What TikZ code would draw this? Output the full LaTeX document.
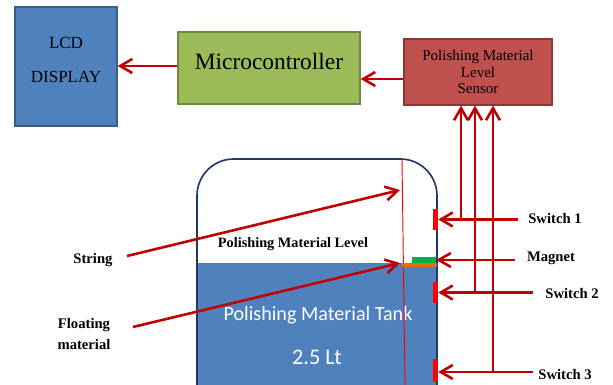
\documentclass[tikz,border=0pt]{standalone}
\usepackage{fontspec}
\setmainfont{Liberation Serif}
\newfontfamily\calfont{Carlito}
\usetikzlibrary{arrows.meta}

\definecolor{lcdblue}{HTML}{4F81BD}
\definecolor{lcdedge}{HTML}{385D8A}
\definecolor{mcgreen}{HTML}{9BBB59}
\definecolor{mcedge}{HTML}{71893F}
\definecolor{senred}{HTML}{C0504D}
\definecolor{senedge}{HTML}{8C3836}
\definecolor{wire}{HTML}{C00000}
\definecolor{tankedge}{HTML}{1F3864}
\definecolor{floatorange}{HTML}{E46C0A}
\definecolor{magnetgreen}{HTML}{00B050}

\tikzset{
  block/.style={draw, line width=1.2pt, align=center, inner sep=0pt},
  sig/.style={wire, line width=2.2pt, -{Straight Barb[length=3.6mm,width=4.2mm,line width=2.2pt]}},
  tag/.style={font=\fontsize{12.5}{14}\selectfont\bfseries, align=center, inner sep=0pt},
  swbar/.style={fill=red, draw=none, minimum width=1.5mm, inner sep=0pt},
}

\begin{document}
\begin{tikzpicture}[x=0.3mm,y=-0.3mm]
\useasboundingbox (0,0) rectangle (613,385);

% blocks on top
\node[block, fill=lcdblue, draw=lcdedge, minimum width=30.6mm, minimum height=35.7mm,
      text depth=3.8mm, font=\fontsize{14.5}{29}\selectfont] (lcd) at (66,66.5) {LCD\\DISPLAY};
\node[block, fill=mcgreen, draw=mcedge, minimum width=54.6mm, minimum height=21.6mm,
      text depth=4.2mm, font=\fontsize{20}{24}\selectfont] (mcu) at (269,68) {Microcontroller};
\node[block, fill=senred, draw=senedge, minimum width=44.4mm, minimum height=19.8mm,
      font=\fontsize{12.8}{13.8}\selectfont] (sensor) at (478,72) {Polishing Material\\Level\\Sensor};

\draw[sig] (mcu.west |- 0,66) -- (lcd.east |- 0,66);
\draw[sig] (sensor.west |- 0,79) -- (mcu.east |- 0,79);

% tank with liquid
\fill[lcdblue] (197,263) rectangle (437,385);
\draw[tankedge, line width=1.4pt, rounded corners=11mm] (197,385) -- (197,159) -- (437,159) -- (437,385);
\node[font=\fontsize{12.2}{13}\selectfont\bfseries, inner sep=0pt] (lvl) at (293,244) {Polishing Material Level};
\node[font=\calfont\fontsize{17.2}{19}\selectfont, text=white, inner sep=0pt] (tank) at (318,315) {Polishing Material Tank};
\node[font=\calfont\fontsize{19}{21}\selectfont, text=white, inner sep=0pt] (vol) at (317,357) {2.5 Lt};

% string, float and magnet
\coordinate (strtop) at (402,159);
\coordinate (strbot) at (405,385);
\draw[red, line width=0.8pt] (strtop) -- (strbot);
\node[fill=floatorange, minimum width=10.5mm, minimum height=1.2mm, inner sep=0pt] (float) at (419.5,265) {};
\node[fill=magnetgreen, minimum width=7.2mm, minimum height=1.8mm, inner sep=0pt] (magnet) at (424,260) {};

% reed switches
\node[swbar, minimum height=6.3mm] (sw1) at (435.5,219.5) {};
\node[swbar, minimum height=6.3mm] (sw2) at (435.5,292.5) {};
\node[swbar, minimum height=6.9mm] (sw3) at (435.5,370.5) {};

% labels on the right
\node[tag] (lsw1) at (555,218) {Switch 1};
\node[tag] (lmag) at (551,258) {Magnet};
\node[tag] (lsw2) at (572,293) {Switch 2};
\node[tag] (lsw3) at (565,374) {Switch 3};

\coordinate (e1) at (518,219.5);
\coordinate (em) at (515,260);
\coordinate (e2) at (533,292.5);
\coordinate (e3) at (533,372);
\draw[sig] (e1) -- (sw1.east);
\draw[sig] (em) -- (magnet.east);
\draw[sig] (e2) -- (sw2.east);
\draw[sig] (e3) -- (sw3.east |- e3);

% switch wires up to the sensor
\coordinate (j1) at (461,219.5);
\coordinate (j2) at (475,292.5);
\coordinate (j3) at (493,372);
\draw[sig] (j1) -- (j1 |- sensor.south);
\draw[sig] (j2) -- (j2 |- sensor.south);
\draw[sig] (j3) -- (j3 |- sensor.south);

% labels on the left
\node[tag] (lstr) at (93,260) {String};
\node[tag, font=\fontsize{12.5}{18}\selectfont\bfseries] (lflt) at (84,334) {Floating\\material};
\coordinate (strtip) at (400,190);
\coordinate (flttip) at (400,263);
\draw[sig] (127,256) coordinate (s0) -- (strtip);
\draw[sig] (133,327) coordinate (f0) -- (flttip);
\end{tikzpicture}
\end{document}
